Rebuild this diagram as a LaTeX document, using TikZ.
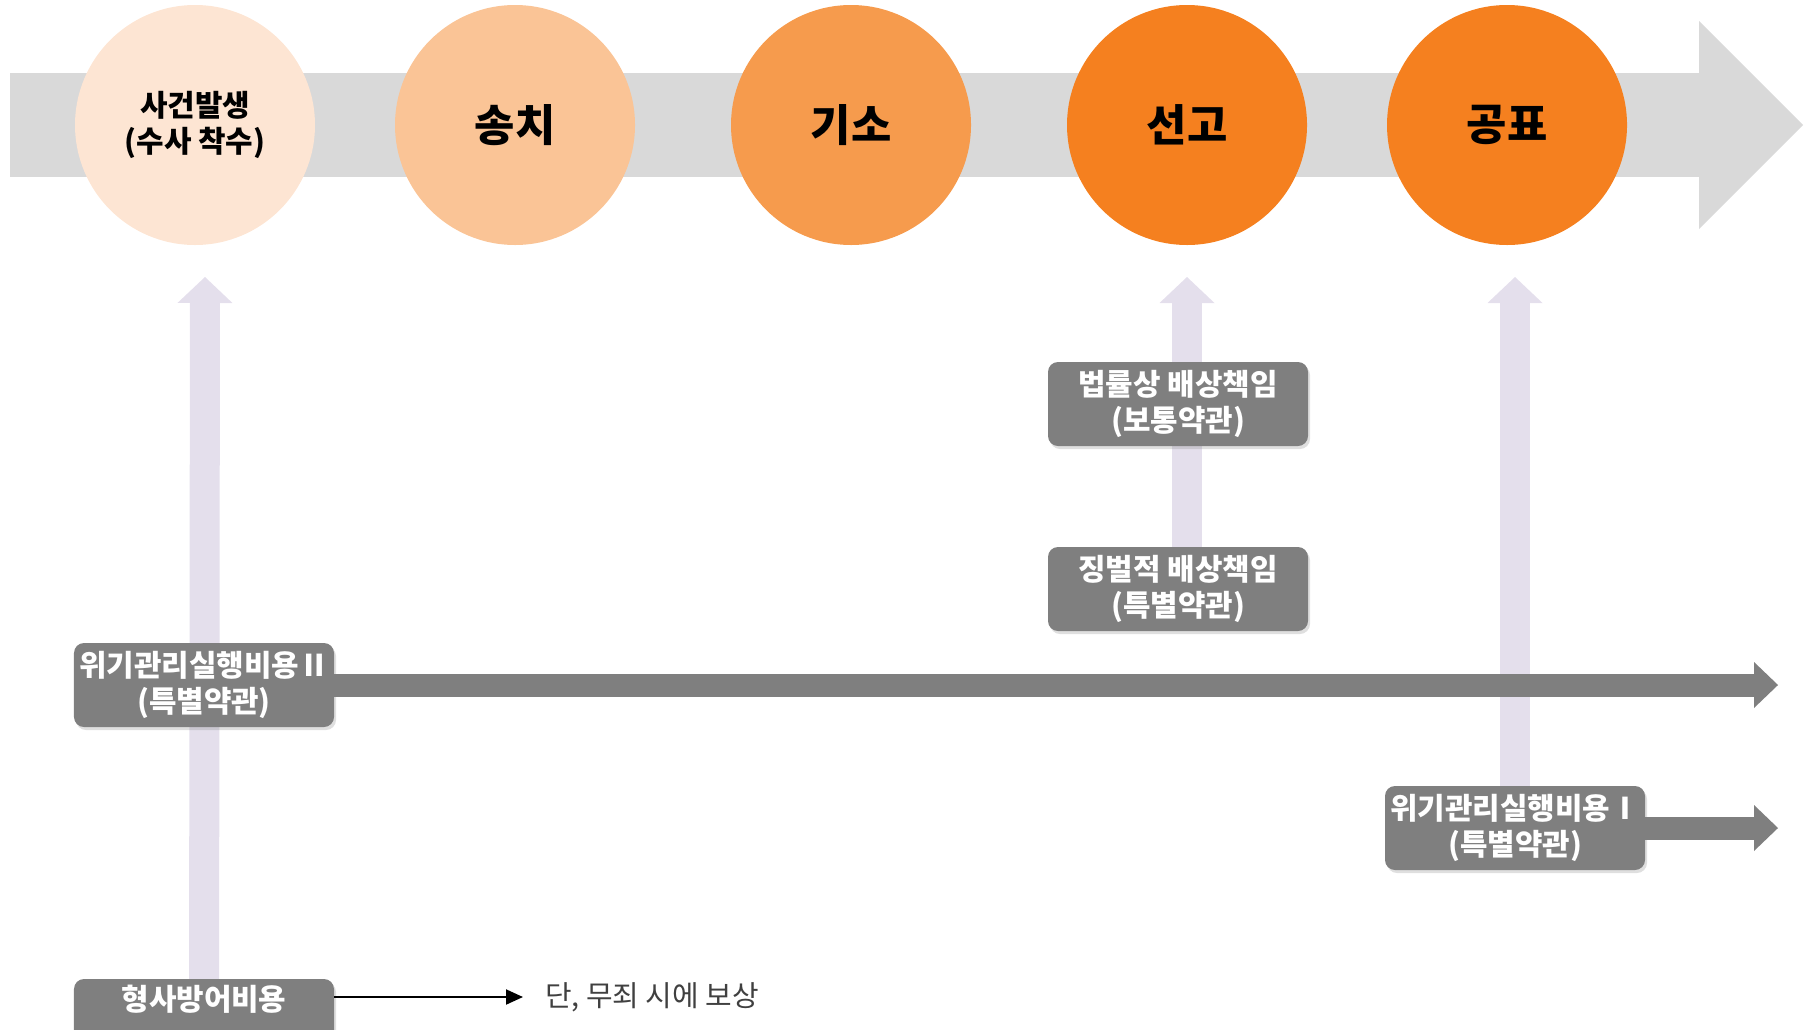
\documentclass[tikz,border=0pt]{standalone}
\usepackage{fontspec}
\setmainfont{Noto Sans CJK KR}
\usetikzlibrary{shapes,arrows.meta,positioning,backgrounds,shadows}

\definecolor{bandgray}{HTML}{D9D9D9}
\definecolor{boxgray}{HTML}{7F7F7F}
\definecolor{lavline}{HTML}{E4DFEC}
\definecolor{stepA}{HTML}{FDE5D3}
\definecolor{stepB}{HTML}{FAC496}
\definecolor{stepC}{HTML}{F69B4D}
\definecolor{stepD}{HTML}{F5801F}
\definecolor{notegray}{HTML}{404040}

\begin{document}
\begin{tikzpicture}[
    x=1bp, y=-1bp,
    node distance=336bp,
    stage node/.style={circle,minimum size=240bp,inner sep=0pt,align=center,font=\fontsize{44}{50}\selectfont\bfseries},
    cover node/.style={rectangle,rounded corners=10bp,fill=boxgray,text=white,align=center,minimum width=260bp,minimum height=84bp,inner sep=0pt,font=\fontsize{30}{36}\selectfont\bfseries,drop shadow={opacity=0.25,shadow xshift=2bp,shadow yshift=-3bp}},
    up arrow/.style={line width=30bp,color=lavline,-{Triangle[width=55bp,length=26bp,line width=0pt]}},
    span arrow/.style={line width=23bp,color=boxgray,-{Triangle[width=46bp,length=24bp,line width=0pt]}}
]
\useasboundingbox (0,0) rectangle (1806,1029);

% Stages
\node[stage node, fill=stepA, font=\fontsize{30}{37}\selectfont\bfseries] (incident) at (195,125) {사건발생\\(수사 착수)};
\node[stage node, fill=stepB, right of=incident, xshift=-16bp] (referral) {송치};
\node[stage node, fill=stepC, right of=referral] (indict) {기소};
\node[stage node, fill=stepD, right of=indict] (verdict) {선고};
\node[stage node, fill=stepD, right of=verdict, xshift=-16bp] (publish) {공표};

% Coverages
\node[cover node] (crisis2) at (204,685) {위기관리실행비용Ⅱ\\(특별약관)};
\node[cover node, below of=crisis2] (defense) {형사방어비용\\\strut};
\node[cover node] (legal) at (1178,404) {법률상 배상책임\\(보통약관)};
\node[cover node, below of=legal, yshift=151bp] (punitive) {징벌적 배상책임\\(특별약관)};
\node[cover node] (crisis1) at (1515,828) {위기관리실행비용Ⅰ\\(특별약관)};

% Note
\node[anchor=west, text=notegray, inner xsep=22bp, font=\fontsize{29}{34}\selectfont] (note) at (523,997) {단, 무죄 시에 보상};

% Arrow ends
\coordinate (band start) at (10,125);
\coordinate (band end) at (1803,125);
\coordinate (tip1) at (205,277);
\coordinate (tip2) at (1187,277);
\coordinate (tip3) at (1515,277);
\coordinate (end2) at (1778,685);
\coordinate (end1) at (1778,828);

% Background arrows
\begin{scope}[on background layer]
\draw[line width=104bp, color=bandgray, -{Triangle[width=208bp,length=104bp,line width=0pt]}] (band start) -- (band end);
\draw[up arrow] (defense) -- (tip1);
\draw[up arrow] (tip2 |- punitive.north) -- (tip2);
\draw[up arrow] (crisis1) -- (tip3);
\end{scope}

% Arrows
\draw[span arrow] (crisis2) -- (end2);
\draw[span arrow] (crisis1) -- (end1);
\draw[-{Triangle[width=15bp,length=17bp]}, line width=2bp] (defense.east |- note) -- (note.west);

\end{tikzpicture}
\end{document}
